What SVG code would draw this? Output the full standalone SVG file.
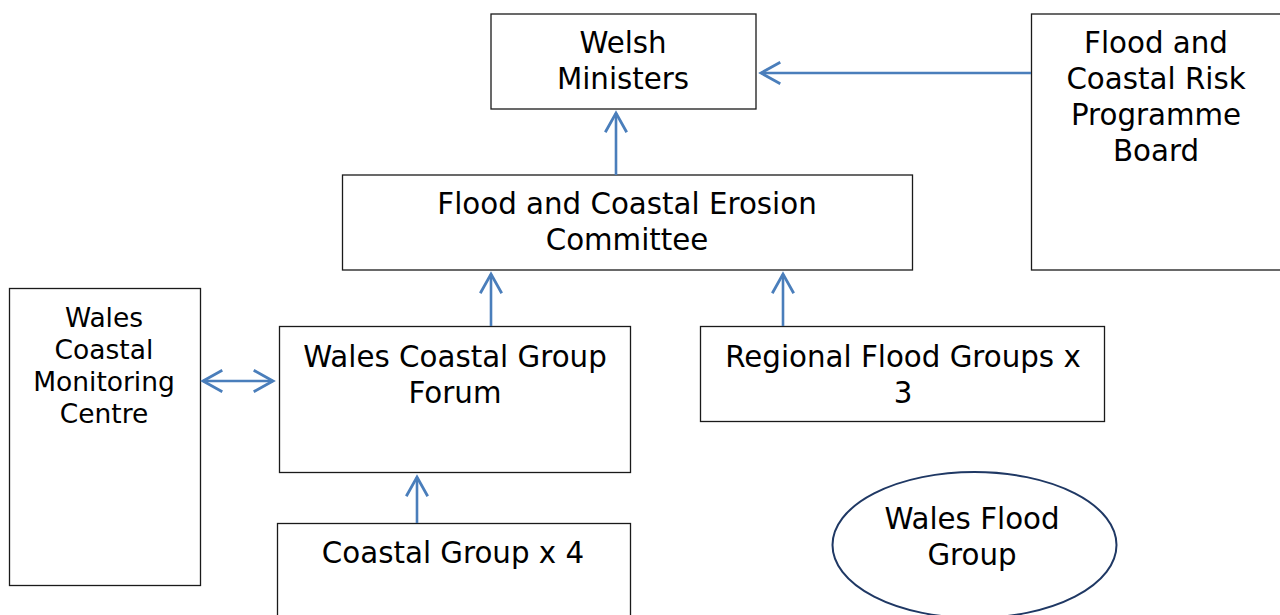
<svg xmlns="http://www.w3.org/2000/svg" width="1280" height="615" viewBox="0 0 1280 615">
<style>
.box{fill:#fff;stroke:#1a1a1a;stroke-width:1.3}
.t{font-family:"DejaVu Sans",Verdana,sans-serif;font-size:29.3px;fill:#000;text-anchor:middle}
.s{font-size:26.5px}
.c{fill:none;stroke:#4a7ebb;stroke-width:2.6}
</style>
<defs>
<marker id="ah" markerUnits="userSpaceOnUse" markerWidth="30" markerHeight="30" viewBox="-22 -14 26 28" refX="0" refY="0" orient="auto-start-reverse">
<path d="M-18,-10 L0,0 L-18,10" fill="none" stroke="#4a7ebb" stroke-width="2.6"/>
</marker>
</defs>
<rect width="1280" height="615" fill="#fff"/>
<g id="welsh-ministers">
<rect class="box" x="491" y="14" width="265" height="95"/>
<text class="t" x="623" y="53">Welsh</text>
<text class="t" x="623" y="89">Ministers</text>
</g>
<g id="programme-board">
<rect class="box" x="1031.5" y="14" width="260" height="256"/>
<text class="t" x="1156" y="53">Flood and</text>
<text class="t" x="1156" y="89">Coastal Risk</text>
<text class="t" x="1156" y="125">Programme</text>
<text class="t" x="1156" y="161">Board</text>
</g>
<g id="fcec">
<rect class="box" x="342.5" y="175" width="570" height="95"/>
<text class="t" x="627" y="214">Flood and Coastal Erosion</text>
<text class="t" x="627" y="250">Committee</text>
</g>
<g id="monitoring-centre">
<rect class="box" x="9.5" y="288.5" width="191" height="297"/>
<text class="t s" x="104" y="327">Wales</text>
<text class="t s" x="104" y="359">Coastal</text>
<text class="t s" x="104" y="391">Monitoring</text>
<text class="t s" x="104" y="423">Centre</text>
</g>
<g id="coastal-group-forum">
<rect class="box" x="279.5" y="326.5" width="351" height="146"/>
<text class="t" x="455" y="367">Wales Coastal Group</text>
<text class="t" x="455" y="403">Forum</text>
</g>
<g id="regional-flood-groups">
<rect class="box" x="700.5" y="326.5" width="404" height="95"/>
<text class="t" x="903" y="367">Regional Flood Groups x</text>
<text class="t" x="903" y="403">3</text>
</g>
<g id="coastal-group">
<rect class="box" x="277.5" y="523.5" width="353" height="100"/>
<text class="t" x="453" y="563">Coastal Group x 4</text>
</g>
<g id="wales-flood-group">
<ellipse cx="974.5" cy="545" rx="142" ry="73" fill="#fff" stroke="#1f3864" stroke-width="2"/>
<text class="t" x="972" y="529">Wales Flood</text>
<text class="t" x="972" y="565">Group</text>
</g>
<g id="connectors">
<line class="c" x1="616" y1="175" x2="616" y2="113" marker-end="url(#ah)"/>
<line class="c" x1="1031" y1="73" x2="761" y2="73" marker-end="url(#ah)"/>
<line class="c" x1="491" y1="326" x2="491" y2="274" marker-end="url(#ah)"/>
<line class="c" x1="783" y1="326" x2="783" y2="274" marker-end="url(#ah)"/>
<line class="c" x1="203" y1="381" x2="273" y2="381" marker-start="url(#ah)" marker-end="url(#ah)"/>
<line class="c" x1="417" y1="523" x2="417" y2="477" marker-end="url(#ah)"/>
</g>
</svg>
